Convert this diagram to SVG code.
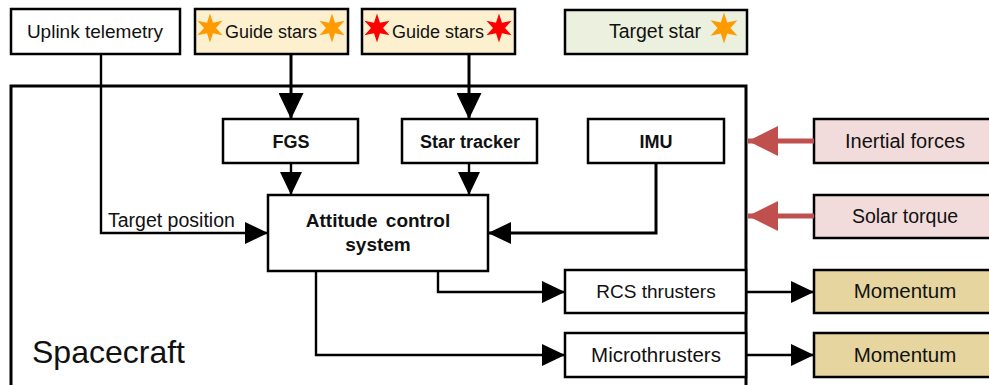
<svg xmlns="http://www.w3.org/2000/svg" width="989" height="385" viewBox="0 0 989 385">
<style>
text{font-family:"Liberation Sans",Arial,sans-serif;fill:#111;}
.box{fill:#fff;stroke:#000;stroke-width:2.5;}
.b{font-weight:bold;font-size:18px;}
.c{text-anchor:middle;}
.ln{fill:none;stroke:#000;stroke-width:2.4;}
.lnb{fill:none;stroke:#000;stroke-width:3;}
.red{fill:none;stroke:#c0504d;stroke-width:5;}
</style>
<defs>
<marker id="ah" markerUnits="userSpaceOnUse" viewBox="0 0 23 22" markerWidth="23" markerHeight="22" refX="23" refY="11" orient="auto"><path d="M0,0L23,11L0,22z" fill="#000"/></marker>
<marker id="ahb" markerUnits="userSpaceOnUse" viewBox="0 0 26 25" markerWidth="26" markerHeight="25" refX="26" refY="12.5" orient="auto"><path d="M0,0L26,12.5L0,25z" fill="#000"/></marker>
<marker id="ahr" markerUnits="userSpaceOnUse" viewBox="0 0 30 30" markerWidth="30" markerHeight="30" refX="30" refY="15" orient="auto"><path d="M0,0L30,15L0,30z" fill="#c0504d"/></marker>
<polygon id="star" points="0,-14.5 3,-5.2 12.56,-7.25 6,0 12.56,7.25 3,5.2 0,14.5 -3,5.2 -12.56,7.25 -6,0 -12.56,-7.25 -3,-5.2"/>
</defs>

<g id="spacecraft">
<rect x="11" y="86" width="735" height="320" fill="none" stroke="#000" stroke-width="3"/>
<text x="32" y="363" font-size="32">Spacecraft</text>
</g>

<g id="uplink">
<rect class="box" x="11" y="9" width="169" height="45"/>
<text class="c" x="95" y="38" font-size="19">Uplink telemetry</text>
</g>
<g id="guide1">
<rect class="box" x="195" y="9" width="153" height="45" style="fill:#fdf0cf"/>
<use href="#star" x="210" y="28" fill="#ff9a00"/>
<use href="#star" x="332" y="28" fill="#ff9a00"/>
<text class="c" x="271" y="38" font-size="18">Guide stars</text>
</g>
<g id="guide2">
<rect class="box" x="362" y="9" width="153" height="45" style="fill:#fdf0cf"/>
<use href="#star" x="377" y="28" fill="#ff0000"/>
<use href="#star" x="499" y="28" fill="#ff0000"/>
<text class="c" x="438" y="38" font-size="18">Guide stars</text>
</g>
<g id="target">
<rect class="box" x="565" y="10" width="182" height="44" style="fill:#ebf1de"/>
<use href="#star" x="724" y="28" fill="#ff9a00" transform="translate(724 28) scale(1.07) translate(-724 -28)"/>
<text class="c" x="655" y="38" font-size="19.5">Target star</text>
</g>

<g id="fgs">
<rect class="box" x="223" y="119" width="135" height="44"/>
<text class="c b" x="291" y="148">FGS</text>
</g>
<g id="startracker">
<rect class="box" x="402" y="119" width="135" height="44"/>
<text class="c b" x="470" y="148">Star tracker</text>
</g>
<g id="imu">
<rect class="box" x="588" y="119" width="136" height="44"/>
<text class="c b" x="656" y="148">IMU</text>
</g>
<g id="acs">
<rect class="box" x="268" y="195" width="220" height="76"/>
<text class="c b" x="378" y="227" style="font-size:19px" word-spacing="3">Attitude control</text>
<text class="c b" x="378" y="251" style="font-size:19px">system</text>
</g>
<g id="rcs">
<rect class="box" x="565" y="270" width="181" height="43"/>
<text class="c" x="656" y="298" font-size="19">RCS thrusters</text>
</g>
<g id="micro">
<rect class="box" x="565" y="333" width="181" height="44"/>
<text class="c" x="656" y="362" font-size="20.5">Microthrusters</text>
</g>
<g id="inertial">
<rect class="box" x="814" y="119" width="190" height="44" style="fill:#f2dcdb"/>
<text class="c" x="905" y="148" font-size="20">Inertial forces</text>
</g>
<g id="solar">
<rect class="box" x="814" y="195" width="190" height="43" style="fill:#f2dcdb"/>
<text class="c" x="905" y="223" font-size="19.5">Solar torque</text>
</g>
<g id="momentum1">
<rect class="box" x="814" y="270" width="190" height="43" style="fill:#e6d59e"/>
<text class="c" x="905" y="298" font-size="20.5">Momentum</text>
</g>
<g id="momentum2">
<rect class="box" x="814" y="333" width="190" height="44" style="fill:#e6d59e"/>
<text class="c" x="905" y="362" font-size="20.5">Momentum</text>
</g>

<g id="connectors">
<path class="lnb" d="M291,54V119" marker-end="url(#ahb)"/>
<path class="lnb" d="M469,54V119" marker-end="url(#ahb)"/>
<path class="ln" d="M291,163V195" marker-end="url(#ah)"/>
<path class="ln" d="M469,163V195" marker-end="url(#ah)"/>
<path class="ln" d="M101,54V233H268" marker-end="url(#ah)"/>
<text x="108" y="227" font-size="19.5">Target position</text>
<path class="lnb" d="M656,163V233H488" marker-end="url(#ah)"/>
<path class="ln" d="M438,271V292H565" marker-end="url(#ah)"/>
<path class="ln" d="M316,271V355H565" marker-end="url(#ah)"/>
<path class="ln" d="M746,292H814" marker-end="url(#ah)"/>
<path class="ln" d="M746,355H814" marker-end="url(#ah)"/>
<path class="red" d="M814,141H748" marker-end="url(#ahr)"/>
<path class="red" d="M814,216H748" marker-end="url(#ahr)"/>
</g>
</svg>
